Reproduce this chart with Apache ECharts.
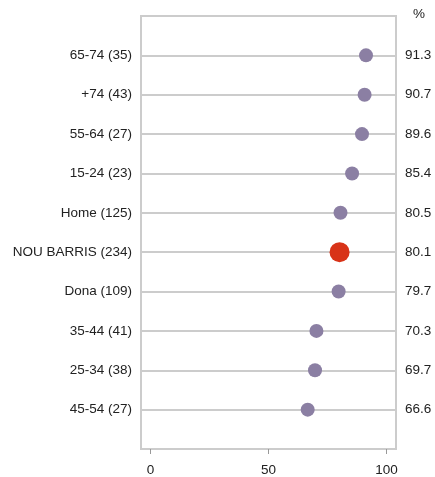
<!DOCTYPE html>
<html>
<head>
<meta charset="UTF-8">
<title>Dot plot</title>
<style>
  html, body { margin: 0; padding: 0; background: #fff; }
  #main { width: 435px; height: 477px; }
</style>
<script src="https://cdn.jsdelivr.net/npm/echarts@6/dist/echarts.min.js"></script>
</head>
<body>
<div id="main"></div>
<script>
  // categories top to bottom
  var categories = ['65-74 (35)', '+74 (43)', '55-64 (27)', '15-24 (23)', 'Home (125)',
    'NOU BARRIS (234)', 'Dona (109)', '35-44 (41)', '25-34 (38)', '45-54 (27)'];
  var values = [91.3, 90.7, 89.6, 85.4, 80.5, 80.1, 79.7, 70.3, 69.7, 66.6];
  var highlight = 'NOU BARRIS (234)';
  var xTicks = [0, 50, 100];

  // pad with empty slots so rows sit half a step away from box edges
  var yCats = [''].concat(categories, ['']);
  var yVals = [''].concat(values.map(function (v) { return v.toFixed(1); }), ['']);

  var points = categories.map(function (c, i) {
    var big = c === highlight;
    return {
      value: [values[i], c],
      symbolSize: big ? 20 : 14,
      itemStyle: { color: big ? '#d83318' : '#8b7fa3', opacity: 1 }
    };
  });

  var fontSize = 13.5;
  var chart = echarts.init(document.getElementById('main'));
  chart.setOption({
    animation: false,
    textStyle: { fontFamily: 'Liberation Sans, Arial, sans-serif' },
    grid: {
      left: 141, right: 39, top: 16, bottom: 27,
      show: true, borderColor: '#cccccc', borderWidth: 2
    },
    xAxis: {
      type: 'value',
      min: -4, max: 104,
      axisLine: { show: false },
      axisTick: {
        show: true, length: 5,
        lineStyle: { color: '#999' },
        customValues: xTicks
      },
      axisLabel: {
        color: '#222', fontSize: fontSize, margin: 14,
        customValues: xTicks
      },
      splitLine: { show: false }
    },
    yAxis: [
      {
        type: 'category',
        data: yCats,
        inverse: true,
        boundaryGap: false,
        axisLine: { show: false },
        axisTick: { show: false },
        axisLabel: { color: '#222', fontSize: fontSize, margin: 9 },
        splitLine: { show: true, lineStyle: { color: '#cccccc', width: 2 } }
      },
      {
        type: 'category',
        data: yVals,
        inverse: true,
        boundaryGap: false,
        position: 'right',
        name: '%',
        nameLocation: 'start',
        nameGap: -5,
        nameTextStyle: { color: '#222', fontSize: fontSize, align: 'left', padding: [0, 0, 0, 17] },
        axisLine: { show: false },
        axisTick: { show: false },
        axisLabel: { color: '#222', fontSize: fontSize, margin: 9 },
        splitLine: { show: false }
      }
    ],
    series: [{
      type: 'scatter',
      yAxisIndex: 0,
      symbol: 'circle',
      data: points
    }]
  });
</script>
</body>
</html>
